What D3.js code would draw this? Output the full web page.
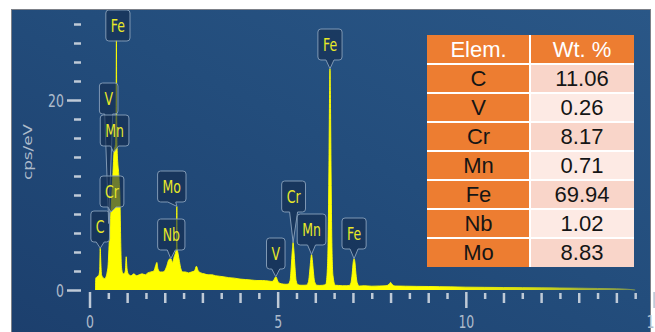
<!DOCTYPE html>
<html>
<head>
<meta charset="utf-8">
<script src="https://cdn.jsdelivr.net/npm/d3@7"></script>
<style>
  html, body { margin: 0; padding: 0; background: #fff; }
  svg { display: block; }
</style>
</head>
<body>
<div id="chart"></div>
<script>

// EDS spectrum: energy in keV, intensity in cps/eV
const energy = [
  0.16, 0.165, 0.20, 0.24, 0.27, 0.285, 0.30, 0.32, 0.36, 0.40, 0.44, 0.47, 0.49, 0.53, 0.587,
  0.62, 0.656, 0.69, 0.705, 0.715, 0.725, 0.735, 0.78, 0.81, 0.83, 0.85, 0.88, 0.92, 0.955, 0.975,
  0.995, 1.03, 1.10, 1.18, 1.25, 1.32, 1.40, 1.48, 1.55, 1.63, 1.71, 1.76, 1.79, 1.82, 1.88,
  1.95, 2.01, 2.06, 2.11, 2.16, 2.21, 2.25, 2.29, 2.31, 2.32, 2.33, 2.35, 2.39, 2.43, 2.48,
  2.55, 2.63, 2.71, 2.79, 2.84, 2.89, 2.96, 3.05, 3.15, 3.25, 3.35, 3.45, 3.55, 3.70, 3.85,
  4.00, 4.15, 4.30, 4.45, 4.60, 4.75, 4.85, 4.90, 4.93, 4.95, 4.97, 5.00, 5.06, 5.15, 5.22,
  5.28, 5.33, 5.36, 5.39, 5.41, 5.43, 5.46, 5.49, 5.54, 5.62, 5.70, 5.77, 5.82, 5.85, 5.88,
  5.90, 5.92, 5.95, 5.98, 6.04, 6.12, 6.20, 6.28, 6.31, 6.34, 6.36, 6.38, 6.39, 6.40, 6.42,
  6.44, 6.47, 6.53, 6.62, 6.72, 6.82, 6.90, 6.95, 6.98, 7.01, 7.03, 7.05, 7.08, 7.11, 7.17,
  7.30, 7.50, 7.70, 7.88, 7.96, 8.00, 8.04, 8.12, 8.40, 8.70, 9.00, 9.30, 9.60, 10.0, 10.5,
  11.0, 11.5, 12.0, 12.5, 13.0, 13.5, 14.0, 14.3, 14.5
];
const counts = [
  0, 1.2, 1.4, 1.5, 2.0, 4.4, 3.0, 1.6, 1.3, 1.2, 1.4, 1.9, 2.4, 5.5, 9.5,
  12.0, 14.7, 15.3, 17.5, 26.3, 16.5, 14.7, 12.0, 9.5, 5.0, 2.4, 1.8, 1.7, 2.1, 3.5,
  2.3, 1.7, 1.5, 1.7, 1.5, 1.6, 1.7, 1.6, 1.8, 1.9, 2.0, 2.6, 2.9, 2.2, 1.9,
  1.9, 2.1, 2.6, 3.2, 3.3, 2.9, 3.5, 4.0, 4.4, 8.8, 4.4, 3.9, 3.0, 2.2, 1.9,
  1.9, 1.8, 1.9, 2.0, 2.5, 2.0, 1.8, 1.7, 1.6, 1.6, 1.5, 1.45, 1.4, 1.3, 1.25,
  1.15, 1.1, 1.05, 1.0, 1.0, 0.95, 0.9, 1.05, 1.3, 1.4, 1.3, 0.95, 0.7, 0.62, 0.6,
  0.62, 1.0, 2.4, 4.2, 5.0, 4.2, 2.4, 1.0, 0.55, 0.5, 0.5, 0.52, 0.9, 1.9, 3.2,
  3.75, 3.2, 1.9, 0.9, 0.5, 0.48, 0.5, 0.6, 1.5, 5.0, 12.0, 21.0, 23.3, 21.0, 12.0,
  5.0, 1.5, 0.5, 0.48, 0.45, 0.45, 0.47, 0.8, 1.7, 3.0, 3.3, 3.0, 1.7, 0.8, 0.42,
  0.45, 0.4, 0.42, 0.45, 0.6, 0.8, 0.6, 0.42, 0.4, 0.38, 0.37, 0.35, 0.33, 0.3, 0.28,
  0.26, 0.25, 0.23, 0.21, 0.19, 0.16, 0.13, 0.08, 0
];

// peak identification labels
const peakNames  = ["C", "V", "Mn", "Cr", "Fe", "Mo", "Nb", "V", "Cr", "Mn", "Fe", "Fe"];
const peakEnergy = [0.285, 0.51, 0.64, 0.57, 0.715, 2.32, 2.16, 4.95, 5.41, 5.90, 6.39, 7.03];
const peakTip    = [4.4, 7.0, 14.5, 8.2, 26.3, 8.8, 3.3, 1.4, 5.0, 3.75, 23.3, 3.3];

// quantification table
const tableHeader = ["Elem.", "Wt. %"];
const tableElements = ["C", "V", "Cr", "Mn", "Fe", "Nb", "Mo"];
const tableWt = ["11.06", "0.26", "8.17", "0.71", "69.94", "1.02", "8.83"];

const xTicks = d3.range(0, 15.5, 0.5);
const yTicks = d3.range(0, 30, 2);

// ---- layout ----
const width = 655;
const height = 332;
const panel = { x: 12, y: 10, w: 638, h: 330 };
// box placement of each label (top edge in px, shift from the peak in px)
const labelTop = [211, 83, 115, 176, 10, 171, 219, 238, 181, 214, 29, 218];
const labelShift = [0, 0, 1, 1, 1.5, -5, 0.5, 0, 0.5, 0, 0, 0];
const labelH = 31;

const svg = d3.select("#chart")
  .append("svg")
  .attr("width", width)
  .attr("height", height);

const defs = svg.append("defs");

const bg = defs.append("linearGradient")
  .attr("id", "bg")
  .attr("x1", "0").attr("y1", "1").attr("x2", "1").attr("y2", "0");
bg.append("stop").attr("offset", "0").attr("stop-color", "#1c3f6d");
bg.append("stop").attr("offset", "0.55").attr("stop-color", "#234d7c");
bg.append("stop").attr("offset", "1").attr("stop-color", "#2a5787");

defs.append("clipPath").attr("id", "clip")
  .append("rect")
  .attr("x", panel.x).attr("y", panel.y)
  .attr("width", width - panel.x).attr("height", panel.h);

svg.append("rect")
  .attr("x", panel.x - 0.5).attr("y", panel.y - 0.5)
  .attr("width", panel.w + 1).attr("height", panel.h)
  .attr("fill", "url(#bg)")
  .attr("stroke", "#7c8088");

const g = svg.append("g").attr("clip-path", "url(#clip)");

// scales
const x = d3.scaleLinear().domain([0, 15]).range([89.5, 654]);
const y = d3.scaleLinear().domain([0, 20]).range([290, 100]);

const fillGrad = defs.append("linearGradient")
  .attr("id", "spec")
  .attr("gradientUnits", "userSpaceOnUse")
  .attr("x1", x(9)).attr("x2", x(14.5)).attr("y1", 0).attr("y2", 0);
fillGrad.append("stop").attr("offset", "0").attr("stop-color", "#ffff00");
fillGrad.append("stop").attr("offset", "0.5").attr("stop-color", "#d6dc14");
fillGrad.append("stop").attr("offset", "1").attr("stop-color", "#7d9450");

// spectrum
const idx = d3.range(energy.length);

const area = d3.area()
  .x(i => x(energy[i]))
  .y0(y(0))
  .y1(i => y(counts[i]))
  .curve(d3.curveMonotoneX);

const line = d3.line()
  .x(i => x(energy[i]))
  .y(i => y(counts[i]))
  .curve(d3.curveMonotoneX);

g.append("path")
  .datum(idx)
  .attr("d", area)
  .attr("fill", "url(#spec)");

g.append("path")
  .datum(idx)
  .attr("d", line)
  .attr("fill", "none")
  .attr("stroke", "url(#spec)")
  .attr("stroke-width", 0.9);

// Y axis
const tickColor = "#bfcad7";
const textColor = "#aebbcb";

const yAxis = d3.axisLeft(y)
  .tickValues(yTicks)
  .tickSize(7)
  .tickFormat(d => d % 20 === 0 ? d : "");

const gY = g.append("g")
  .attr("transform", "translate(81,0)")
  .call(yAxis);
gY.select(".domain").remove();
gY.selectAll(".tick line")
  .attr("stroke", tickColor)
  .attr("stroke-width", 2.5)
  .attr("x2", d => d % 20 === 0 ? -14 : -7);
gY.selectAll(".tick text")
  .attr("x", -17)
  .attr("dy", "0.36em")
  .attr("fill", textColor)
  .attr("transform", "scale(1,1.45)")
  .style("font", "12.5px 'DejaVu Sans', sans-serif");

// X axis
const xAxis = d3.axisBottom(x)
  .tickValues(xTicks)
  .tickSize(10)
  .tickFormat(d => d % 5 === 0 ? d : "");

const gX = g.append("g")
  .attr("transform", "translate(0,293)")
  .call(xAxis);
gX.select(".domain").remove();
gX.selectAll(".tick line")
  .attr("stroke", tickColor)
  .attr("stroke-width", 2.5)
  .attr("y1", d => d % 5 === 0 ? -1 : 0)
  .attr("y2", d => d % 5 === 0 ? 15 : (d % 1 === 0 ? 10 : 6));
gX.selectAll(".tick text")
  .attr("y", 35.5 / 1.4)
  .attr("dy", 0)
  .attr("fill", textColor)
  .attr("transform", "scale(1,1.4)")
  .style("font", "12.5px 'DejaVu Sans', sans-serif");

g.append("text")
  .attr("transform", "translate(28,152) scale(1,1.4) rotate(-90)")
  .attr("text-anchor", "middle")
  .attr("dy", "0.35em")
  .attr("fill", textColor)
  .style("font", "12px 'DejaVu Sans', sans-serif")
  .text("cps/eV");

// peak labels
function callout(x0, y0, w, h, tx, ty) {
  const r = 3, x1 = x0 + w, y1 = y0 + h, cx = x0 + w / 2;
  return `M${x0 + r},${y0}H${x1 - r}Q${x1},${y0} ${x1},${y0 + r}V${y1 - r}Q${x1},${y1} ${x1 - r},${y1}` +
    `H${cx + 4}L${tx},${ty}L${cx - 4},${y1}H${x0 + r}Q${x0},${y1} ${x0},${y1 - r}V${y0 + r}Q${x0},${y0} ${x0 + r},${y0}Z`;
}

const gL = g.append("g");
peakNames.forEach((name, i) => {
  const tx = x(peakEnergy[i]);
  const ty = y(peakTip[i]);
  const cx = tx + labelShift[i];
  const top = labelTop[i];

  const lab = gL.append("g");
  const path = lab.append("path");
  const txt = lab.append("text")
    .attr("transform", `translate(${cx},${top + labelH / 2}) scale(1,1.4)`)
    .attr("text-anchor", "middle")
    .attr("dy", "0.36em")
    .attr("fill", "#e9e928")
    .style("font", "12.5px 'DejaVu Sans', sans-serif")
    .text(name);

  const w = txt.node().getComputedTextLength() + 10;
  path
    .attr("d", callout(cx - w / 2, top, w, labelH, tx, Math.max(ty, top + labelH)))
    .attr("fill", "rgba(20,44,78,0.62)")
    .attr("stroke", "#7f98b4")
    .attr("stroke-width", 1);
});

// quantification table
const tX = [427, 530, 634];
const tY0 = 35;
const rowH = 29;
const rows = [tableHeader].concat(tableElements.map((e, i) => [e, tableWt[i]]));

const gT = svg.append("g");
rows.forEach((row, r) => {
  const ry = tY0 + r * rowH;
  row.forEach((val, c) => {
    let fill = "#ed7d31";
    if (r > 0 && c === 1) fill = r % 2 === 1 ? "#f9d5c9" : "#fdeae4";
    gT.append("rect")
      .attr("x", tX[c]).attr("y", ry)
      .attr("width", tX[c + 1] - tX[c]).attr("height", rowH)
      .attr("fill", fill);
    gT.append("text")
      .attr("x", (tX[c] + tX[c + 1]) / 2)
      .attr("y", ry + rowH / 2)
      .attr("dy", "0.35em")
      .attr("text-anchor", "middle")
      .attr("fill", r === 0 ? "#ffffff" : "#151515")
      .style("font", "22px 'Liberation Sans', Arial, sans-serif")
      .text(val);
  });
});
// white grid lines
d3.range(1, rows.length).forEach(r => {
  gT.append("line")
    .attr("x1", tX[0]).attr("x2", tX[2])
    .attr("y1", tY0 + r * rowH).attr("y2", tY0 + r * rowH)
    .attr("stroke", "#fff").attr("stroke-width", 2);
});
gT.append("line")
  .attr("x1", tX[1]).attr("x2", tX[1])
  .attr("y1", tY0).attr("y2", tY0 + rows.length * rowH)
  .attr("stroke", "#fff").attr("stroke-width", 2);

</script>
</body>
</html>
